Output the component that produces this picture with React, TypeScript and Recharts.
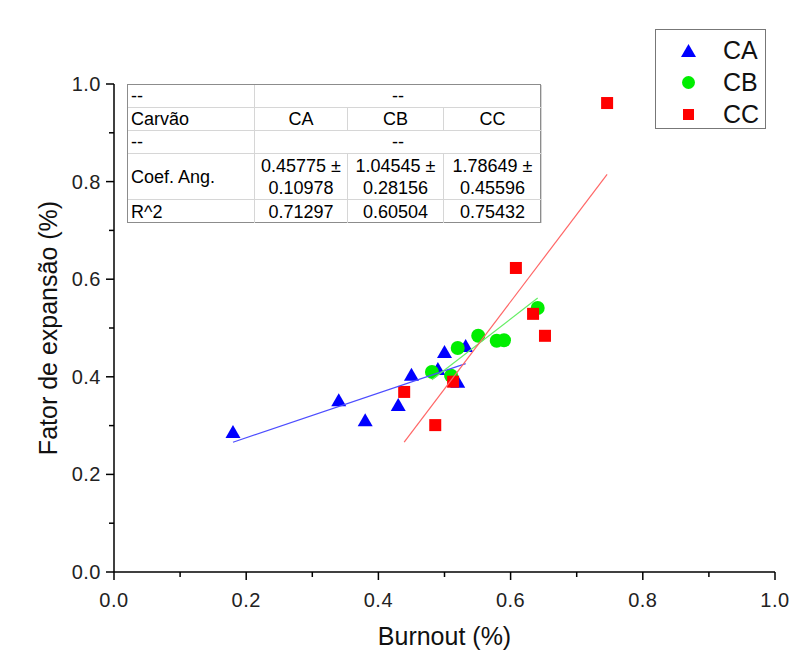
import React from 'react';
import { ScatterChart, Scatter, XAxis, YAxis } from 'recharts';

// pontos (Burnout x Fator de expansão)
const caBurnout = [0.18, 0.34, 0.38, 0.43, 0.45, 0.49, 0.5, 0.52, 0.532];
const caFator = [0.287, 0.352, 0.311, 0.342, 0.404, 0.416, 0.451, 0.39, 0.463];
const cbBurnout = [0.481, 0.51, 0.52, 0.551, 0.579, 0.59, 0.641];
const cbFator = [0.41, 0.402, 0.459, 0.484, 0.474, 0.475, 0.541];
const ccBurnout = [0.439, 0.486, 0.513, 0.608, 0.634, 0.652, 0.746];
const ccFator = [0.369, 0.301, 0.39, 0.623, 0.529, 0.484, 0.961];

// ajuste linear (tabela)
const carvoes = ['CA', 'CB', 'CC'];
const coefAng = [0.45775, 1.04545, 1.78649];
const coefAngErr = [0.10978, 0.28156, 0.45596];
const rQuad = [0.71297, 0.60504, 0.75432];
const intercepto = [0.1836, -0.1088, -0.518];

const xTicks = [0, 0.1, 0.2, 0.3, 0.4, 0.5, 0.6, 0.7, 0.8, 0.9, 1.0];
const yTicks = [0, 0.1, 0.2, 0.3, 0.4, 0.5, 0.6, 0.7, 0.8, 0.9, 1.0];

const FONT = '"Liberation Sans", Arial, sans-serif';
const colors = ['#0000ff', '#00ee00', '#ff0000'];
const lineColors = ['#4d4dff', '#66ee66', '#ff6666'];

const toPoints = (xs: number[], ys: number[]) => xs.map((x, i) => ({ x, y: ys[i] }));
const caData = toPoints(caBurnout, caFator);
const cbData = toPoints(cbBurnout, cbFator);
const ccData = toPoints(ccBurnout, ccFator);
const allX = [caBurnout, cbBurnout, ccBurnout];

const fitData = (i: number) => {
  const xs = allX[i];
  const x0 = Math.min(...xs);
  const x1 = Math.max(...xs);
  return [
    { x: x0, y: intercepto[i] + coefAng[i] * x0 },
    { x: x1, y: intercepto[i] + coefAng[i] * x1 },
  ];
};

const Triangle = (p: any) => (
  <polygon
    points={`${p.cx},${p.cy - 7} ${p.cx - 7.5},${p.cy + 6} ${p.cx + 7.5},${p.cy + 6}`}
    fill={colors[0]}
  />
);
const Circle = (p: any) => <circle cx={p.cx} cy={p.cy} r={7} fill={colors[1]} />;
const Square = (p: any) => <rect x={p.cx - 6} y={p.cy - 6} width={12} height={12} fill={colors[2]} />;
const Nothing = () => <g />;

const isMajor = (v: number) => Math.round(v * 10) % 2 === 0;

const XTick = (props: any) => {
  const { x, y, payload } = props;
  const v = payload.value;
  const major = isMajor(v);
  return (
    <g>
      <line x1={x} x2={x} y1={y} y2={y + (major ? 8 : 5)} stroke="#000" strokeWidth={1.5} />
      {major && (
        <text x={x} y={y + 35} textAnchor="middle" fontSize={20} fill="#222" fontFamily={FONT} letterSpacing={0.5}>
          {v.toFixed(1)}
        </text>
      )}
    </g>
  );
};

const YTick = (props: any) => {
  const { x, y, payload } = props;
  const v = payload.value;
  const major = isMajor(v);
  return (
    <g>
      <line x1={x} x2={x - (major ? 8 : 5)} y1={y} y2={y} stroke="#000" strokeWidth={1.5} />
      {major && (
        <text x={x - 13} y={y + 7} textAnchor="end" fontSize={20} fill="#222" fontFamily={FONT} letterSpacing={0.5}>
          {v.toFixed(1)}
        </text>
      )}
    </g>
  );
};

const cell = (extra: React.CSSProperties = {}): React.CSSProperties => ({
  borderRight: '1px solid #d6d6d6',
  borderBottom: '1px solid #d6d6d6',
  display: 'flex',
  alignItems: 'center',
  justifyContent: 'center',
  boxSizing: 'border-box',
  ...extra,
});

const FitTable = () => (
  <div
    style={{
      position: 'absolute',
      left: 127,
      top: 84,
      width: 414,
      height: 139,
      display: 'grid',
      gridTemplateColumns: '127px 93px 96px 98px',
      gridTemplateRows: '23px 23px 23px 46px 23px',
      border: '1px solid #8c8c8c',
      boxSizing: 'border-box',
      background: '#fff',
      fontFamily: FONT,
      fontSize: 18,
      color: '#000',
      lineHeight: '22px',
    }}
  >
    <div style={cell({ justifyContent: 'flex-start', paddingLeft: 3 })}>--</div>
    <div style={cell({ gridColumn: 'span 3' })}>--</div>
    <div style={cell({ justifyContent: 'flex-start', paddingLeft: 3 })}>Carvão</div>
    {carvoes.map((c) => (
      <div key={c} style={cell()}>{c}</div>
    ))}
    <div style={cell({ justifyContent: 'flex-start', paddingLeft: 3 })}>--</div>
    <div style={cell({ gridColumn: 'span 3' })}>--</div>
    <div style={cell({ justifyContent: 'flex-start', paddingLeft: 3 })}>Coef. Ang.</div>
    {coefAng.map((v, i) => (
      <div key={i} style={cell({ flexDirection: 'column', textAlign: 'center' })}>
        <span>{v.toFixed(5)} ±</span>
        <span>{coefAngErr[i].toFixed(5)}</span>
      </div>
    ))}
    <div style={cell({ justifyContent: 'flex-start', paddingLeft: 3, borderBottom: 'none' })}>R^2</div>
    {rQuad.map((v, i) => (
      <div key={i} style={cell({ borderBottom: 'none' })}>{v.toFixed(5)}</div>
    ))}
  </div>
);

const markers = [
  <polygon key="t" points="7.5,1 0,14 15,14" fill={colors[0]} />,
  <circle key="c" cx={7.5} cy={7.5} r={6.5} fill={colors[1]} />,
  <rect key="s" x={2} y={2} width={11} height={11} fill={colors[2]} />,
];

const LegendBox = () => (
  <div
    style={{
      position: 'absolute',
      left: 655,
      top: 29,
      width: 111,
      height: 100,
      border: '1.5px solid #777',
      boxSizing: 'border-box',
      background: '#fff',
      fontFamily: FONT,
    }}
  >
    {carvoes.map((c, i) => (
      <div
        key={c}
        style={{ position: 'absolute', left: 0, top: 5 + i * 32, height: 30, display: 'flex', alignItems: 'center' }}
      >
        <svg width={15} height={15} style={{ marginLeft: 25 }}>{markers[i]}</svg>
        <span style={{ marginLeft: 27, fontSize: 25, color: '#111' }}>{c}</span>
      </div>
    ))}
  </div>
);

export default function App() {
  return (
    <div style={{ position: 'absolute', left: 0, top: 0, width: 790, height: 652, background: '#fff' }}>
      <ScatterChart width={790} height={652} margin={{ top: 84, right: 15, bottom: 30, left: 0 }}>
        <XAxis
          type="number"
          dataKey="x"
          domain={[0, 1]}
          ticks={xTicks}
          height={50}
          tickSize={0}
          tickMargin={0}
          tickLine={false}
          tick={<XTick />}
          axisLine={{ stroke: '#000', strokeWidth: 1.5 }}
          label={{ value: 'Burnout (%)', position: 'bottom', offset: 5, fontSize: 25, fill: '#111', fontFamily: FONT }}
        />
        <YAxis
          type="number"
          dataKey="y"
          domain={[0, 1]}
          ticks={yTicks}
          width={114}
          tickSize={0}
          tickMargin={0}
          tickLine={false}
          tick={<YTick />}
          axisLine={{ stroke: '#000', strokeWidth: 1.5 }}
          label={{
            value: 'Fator de expansão (%)',
            angle: -90,
            position: 'insideLeft',
            offset: 48,
            fontSize: 25,
            fill: '#111',
            fontFamily: FONT,
            style: { textAnchor: 'middle' },
          }}
        />
        <Scatter name="CA" data={caData} shape={Triangle} isAnimationActive={false} />
        <Scatter name="CB" data={cbData} shape={Circle} isAnimationActive={false} />
        <Scatter name="CC" data={ccData} shape={Square} isAnimationActive={false} />
        {carvoes.map((c, i) => (
          <Scatter
            key={'fit' + c}
            data={fitData(i)}
            shape={Nothing}
            line={{ stroke: lineColors[i], strokeWidth: 1.2 }}
            legendType="none"
            isAnimationActive={false}
          />
        ))}
      </ScatterChart>
      <FitTable />
      <LegendBox />
    </div>
  );
}
